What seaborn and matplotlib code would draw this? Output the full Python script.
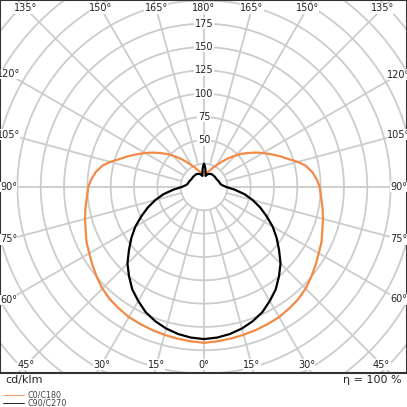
import numpy as np
import pandas as pd
import matplotlib
matplotlib.use("Agg")
import matplotlib.pyplot as plt
import seaborn as sns

# gamma angles (deg, from nadir) and intensities (cd/klm)
gamma_c0 = [0, 5, 10, 15, 20, 25, 30, 35, 40, 45, 50, 55, 60, 65, 70, 75, 80, 85, 90, 94, 98, 102, 105,
            108, 112, 116, 120, 124, 128, 132, 136, 140, 145, 150, 155, 160, 165, 170, 175, 180]
int_c0 = [167, 166, 165, 164, 163, 162, 161, 159, 157, 154, 150, 146, 142, 139, 135, 132, 129, 126, 124,
          121, 117, 111, 104, 96, 88, 80, 73, 66, 59, 53, 46, 40, 33, 27, 23, 19, 17, 16, 16, 16]
gamma_c90 = [0, 5, 10, 15, 20, 25, 30, 35, 40, 45, 50, 55, 60, 65, 70, 75, 80, 85, 90, 95, 100, 110,
             120, 135, 150, 160, 165, 168, 172, 174, 176, 178, 180]
int_c90 = [163, 162, 160, 157, 153, 148, 141, 134, 125, 116, 105, 95, 85, 74, 64, 54, 44, 33, 24, 20,
           18, 17, 16, 16, 16, 15, 14, 13, 12, 16, 20, 23, 25]
radial_ticks = [50, 75, 100, 125, 150, 175]
angle_ticks = [0, 15, 30, 45, 60, 75, 90, 105, 120, 135, 150, 165, 180]
series_names = ["C0/C180", "C90/C270"]
colors = ["#f28a45", "#000000"]

def closed(g, r, name):
    g = np.radians(np.array(g, float)); r = np.array(r, float)
    gg = np.concatenate([g, g[::-1]]); rr = np.concatenate([r, r[::-1]])
    sgn = np.concatenate([np.ones(len(g)), -np.ones(len(g))])
    return pd.DataFrame({"x": sgn * rr * np.sin(gg), "y": -rr * np.cos(gg),
                         "order": np.arange(len(gg)), "series": name})

df = pd.concat([closed(gamma_c0, int_c0, series_names[0]),
                closed(gamma_c90, int_c90, series_names[1])])

sns.set_style("white")
fig = plt.figure(figsize=(4.07, 4.07), dpi=100)
ax = fig.add_axes([0, 34/407, 1, 373/407])
s = 0.933
xl = 204/s; ax.set_xlim(-xl, 407/s - xl)
ax.set_ylim(-186/s, 187/s)
ax.set_aspect("auto")
grid = "#cccccc"
t = np.linspace(0, 2*np.pi, 400)
for R in range(25, 325, 25):
    ax.plot(R*np.cos(t), R*np.sin(t), color=grid, lw=1.3, zorder=1)
for a in range(0, 360, 15):
    ar = np.radians(a)
    ax.plot([25*np.cos(ar), 320*np.cos(ar)], [25*np.sin(ar), 320*np.sin(ar)], color=grid, lw=1.3, zorder=1)

for name, c in zip(series_names, colors):
    sub = df[df.series == name]
    sns.lineplot(data=sub, x="x", y="y", sort=False, estimator=None, color=c, lw=1.6, ax=ax, zorder=3)

for R in radial_ticks:
    ax.text(0, R, str(R), ha="center", va="center", fontsize=7, color="#222222",
            bbox=dict(facecolor="white", edgecolor="none", pad=0.3), zorder=4)

x0, x1 = ax.get_xlim(); y0, y1 = ax.get_ylim()
ins = 9
for g in angle_ticks:
    for sgn in ([1] if g in (0, 180) else [1, -1]):
        gr = np.radians(g)
        dx, dy = sgn*np.sin(gr), -np.cos(gr)
        ts = []
        if abs(dx) > 1e-9: ts.append(((x1-ins) if dx > 0 else (-x0-ins)) / abs(dx))
        if abs(dy) > 1e-9: ts.append(((y1-ins) if dy > 0 else (-y0-ins)) / abs(dy))
        tt = min(ts)
        ax.text(tt*dx, tt*dy, f"{g}°", ha="center", va="center", fontsize=7, color="#222222",
                bbox=dict(facecolor="white", edgecolor="none", pad=0.3), zorder=4)

ax.set_xticks([]); ax.set_yticks([]); ax.set_xlabel(""); ax.set_ylabel("")
for sp in ax.spines.values():
    sp.set_color("#333333"); sp.set_linewidth(1.5)
if ax.get_legend(): ax.get_legend().remove()

fig.text(5/407, 1-380/407, "cd/klm", fontsize=8, va="center", ha="left")
fig.text(402/407, 1-380/407, "η = 100 %", fontsize=8, va="center", ha="right")
for i, (name, c) in enumerate(zip(series_names, colors)):
    yy = 1 - (395 + i*8)/407
    fig.lines.append(plt.Line2D([3/407, 24/407], [yy, yy], color=c, lw=0.6, transform=fig.transFigure))
    fig.text(28/407, yy, name, fontsize=5.8, va="center", ha="left", color="#444444")

fig.savefig("out.png", dpi=100)
